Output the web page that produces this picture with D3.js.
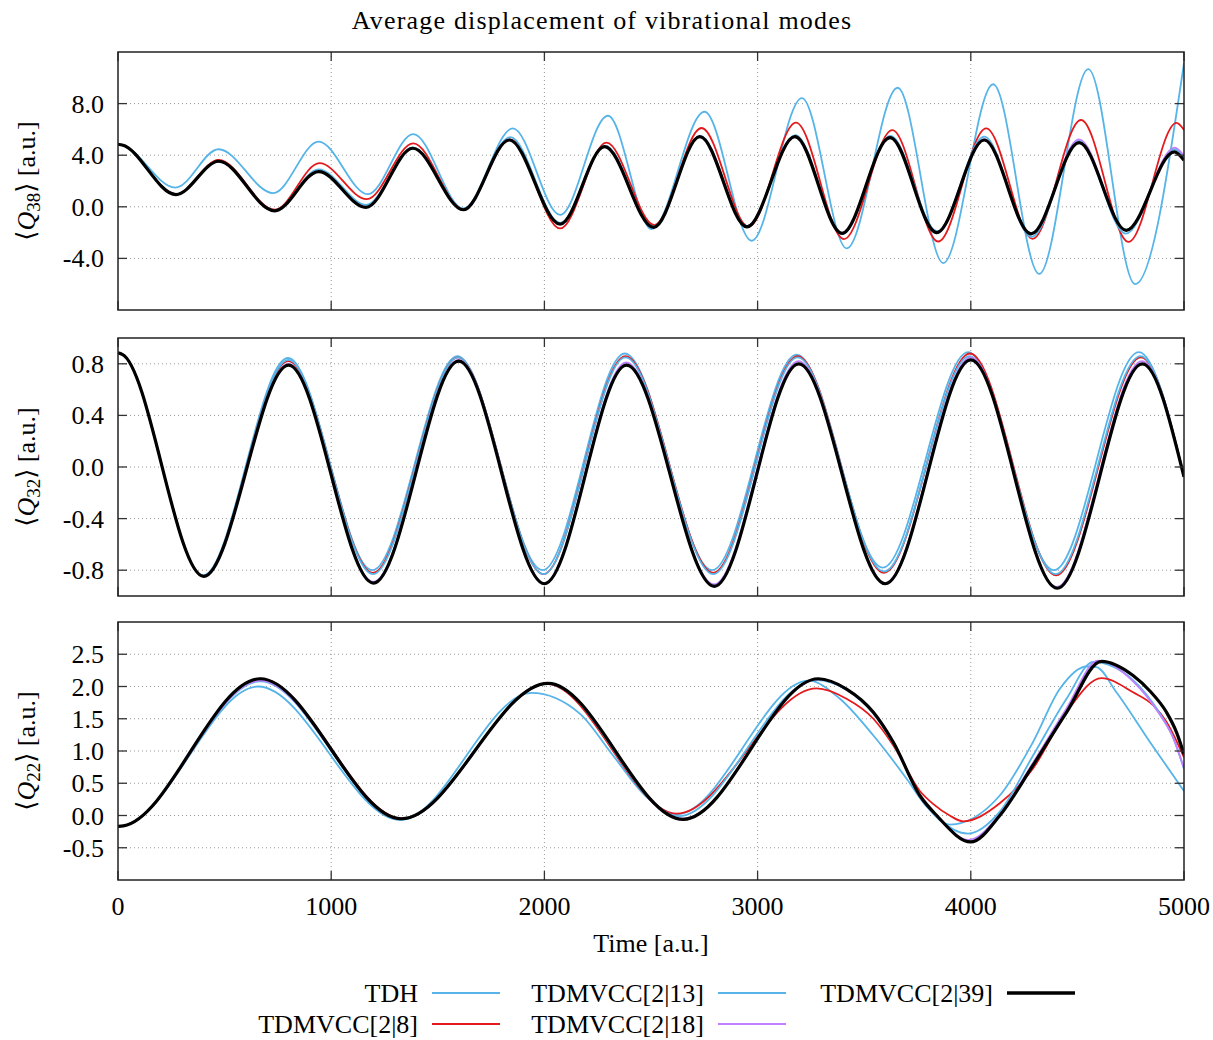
<!DOCTYPE html>
<html>
<head>
<meta charset="utf-8">
<script src="https://cdn.jsdelivr.net/npm/d3@7"></script>
<style>
  body { margin: 0; background: #fff; }
  text { font-family: "Liberation Serif", "DejaVu Serif", serif; fill: #000; }
</style>
</head>
<body>
<div id="chart"></div>
<script>
// series names + colours (legend is column-major)
var names  = ["TDH", "TDMVCC[2|8]", "TDMVCC[2|13]", "TDMVCC[2|18]", "TDMVCC[2|39]"];
var colors = ["#56b4e9", "#e41a1c", "#56b4e9", "#c080ff", "#000000"];
var xTicks = [0, 1000, 2000, 3000, 4000, 5000];

// <Q38>  [time, value]
var q38_tdh = [[0,4.85],[20,4.79],[269,1.49],[472,4.46],[728,1.06],[941,5.05],[1172,0.98],[1385,5.64],[1620,-0.13],[1852,6.08],[2074,-0.62],[2298,7.06],[2503,-1.73],[2751,7.37],[2972,-2.63],[3208,8.43],[3418,-3.22],[3657,9.23],[3871,-4.36],[4105,9.5],[4321,-5.2],[4551,10.67],[4771,-6.0],[5000,11.15]];
var q38_v8  = [[0,4.85],[20,4.79],[272,0.98],[472,3.63],[735,-0.23],[945,3.38],[1167,0.59],[1385,4.92],[1620,-0.2],[1840,5.23],[2074,-1.68],[2291,4.97],[2516,-1.42],[2737,6.11],[2958,-1.55],[3180,6.52],[3405,-2.5],[3632,5.95],[3847,-2.69],[4072,6.08],[4290,-2.48],[4517,6.73],[4740,-2.72],[4965,6.5],[5000,5.95]];
var q38_v13 = [[0,4.85],[20,4.79],[272,0.97],[472,3.5],[735,-0.28],[941,2.9],[1165,0.15],[1383,4.6],[1620,-0.2],[1840,5.4],[2074,-1.25],[2285,4.75],[2512,-1.55],[2731,5.5],[2952,-1.5],[3177,5.55],[3398,-2.1],[3623,5.5],[3842,-1.9],[4063,5.44],[4285,-2.33],[4507,5.1],[4727,-2.08],[4957,4.46],[5000,3.85]];
var q38_v18 = [[0,4.85],[20,4.79],[272,0.95],[472,3.53],[735,-0.3],[941,2.75],[1163,-0.03],[1383,4.55],[1620,-0.22],[1835,5.2],[2074,-1.32],[2282,4.68],[2512,-1.58],[2729,5.5],[2950,-1.55],[3175,5.48],[3396,-2.05],[3621,5.4],[3840,-1.98],[4063,5.25],[4283,-2.1],[4508,5.23],[4729,-1.85],[4957,4.59],[5000,3.95]];
var q38_v39 = [[0,4.85],[20,4.79],[272,0.95],[472,3.53],[735,-0.31],[941,2.73],[1163,-0.05],[1383,4.54],[1620,-0.23],[1835,5.18],[2074,-1.34],[2282,4.66],[2512,-1.6],[2729,5.44],[2950,-1.55],[3175,5.44],[3396,-2.06],[3621,5.36],[3840,-2.0],[4063,5.18],[4283,-2.1],[4508,4.97],[4729,-1.82],[4955,4.26],[5000,3.6]];

// <Q32>
var q32_tdh = [[0,0.885],[20,0.873],[400,-0.84],[797,0.845],[1193,-0.8],[1592,0.86],[1992,-0.8],[2377,0.88],[2787,-0.8],[3183,0.87],[3587,-0.78],[3988,0.89],[4390,-0.8],[4788,0.89],[5000,-0.07]];
var q32_v8  = [[0,0.885],[20,0.873],[402,-0.845],[799,0.82],[1196,-0.82],[1595,0.85],[1996,-0.83],[2380,0.86],[2792,-0.82],[3188,0.86],[3593,-0.82],[3996,0.88],[4400,-0.84],[4798,0.85],[5000,-0.075]];
var q32_v13 = [[0,0.885],[20,0.873],[402,-0.845],[799,0.83],[1196,-0.83],[1595,0.85],[1996,-0.83],[2380,0.85],[2792,-0.83],[3188,0.85],[3593,-0.81],[3994,0.86],[4398,-0.83],[4796,0.86],[5000,-0.07]];
var q32_v18 = [[0,0.885],[20,0.873],[402,-0.848],[800,0.8],[1198,-0.89],[1598,0.83],[2000,-0.9],[2384,0.81],[2796,-0.91],[3192,0.82],[3598,-0.9],[3999,0.85],[4403,-0.93],[4803,0.82],[5000,-0.077]];
var q32_v39 = [[0,0.885],[20,0.873],[402,-0.848],[800,0.79],[1198,-0.9],[1598,0.82],[2000,-0.905],[2385,0.79],[2797,-0.925],[3193,0.8],[3599,-0.905],[4000,0.83],[4405,-0.94],[4805,0.8],[5000,-0.077]];

// <Q22>
var q22_tdh = [[0,-0.17],[25,-0.16],[657,2.0],[1324,-0.07],[1939,1.9],[2166,1.58],[2322,0.93],[2478,0.29],[2622,0.02],[3240,2.09],[3386,1.81],[3543,1.24],[3699,0.57],[3790,0.15],[3901,-0.14],[4136,0.31],[4292,1.14],[4417,1.96],[4543,2.31],[4589,2.3],[4683,1.91],[4840,1.14],[5000,0.38]];
var q22_v8  = [[0,-0.17],[25,-0.16],[667,2.12],[1335,-0.05],[2010,2.04],[2620,0.03],[3277,1.97],[3417,1.81],[3543,1.5],[3636,1.09],[3761,0.38],[3823,0.18],[3901,0.0],[3964,-0.09],[4136,0.19],[4292,0.73],[4449,1.6],[4613,2.13],[4761,1.91],[4855,1.71],[4918,1.45],[5000,0.9]];
var q22_v13 = [[0,-0.17],[25,-0.16],[667,2.08],[1329,-0.06],[2017,2.05],[2630,-0.01],[3275,2.1],[3417,1.95],[3543,1.58],[3636,1.12],[3761,0.3],[3850,-0.05],[3987,-0.28],[4136,0.06],[4292,0.93],[4449,1.81],[4574,2.38],[4761,2.1],[4887,1.58],[4950,1.2],[5000,0.72]];
var q22_v18 = [[0,-0.17],[25,-0.16],[667,2.09],[1329,-0.05],[2017,2.04],[2651,-0.05],[3285,2.11],[3417,1.96],[3543,1.6],[3636,1.14],[3761,0.31],[3840,0.0],[3990,-0.38],[4136,0.02],[4292,0.82],[4449,1.66],[4597,2.4],[4761,2.08],[4887,1.56],[4950,1.2],[5000,0.73]];
var q22_v39 = [[0,-0.17],[25,-0.16],[667,2.12],[1329,-0.05],[2017,2.05],[2651,-0.06],[3285,2.12],[3417,1.96],[3543,1.6],[3636,1.14],[3761,0.31],[3840,0.0],[4000,-0.41],[4136,0.0],[4292,0.78],[4449,1.6],[4613,2.39],[4761,2.17],[4840,1.93],[4918,1.6],[4965,1.29],[5000,0.95]];

var q38Ticks = [-4, 0, 4, 8];
var q32Ticks = [-0.8, -0.4, 0, 0.4, 0.8];
var q22Ticks = [-0.5, 0, 0.5, 1, 1.5, 2, 2.5];

var panels = [
  {sub: "38", top: 52,  domain: [-8, 12], ticks: q38Ticks, series: [q38_tdh, q38_v8, q38_v13, q38_v18, q38_v39]},
  {sub: "32", top: 338, domain: [-1, 1],  ticks: q32Ticks, series: [q32_tdh, q32_v8, q32_v13, q32_v18, q32_v39]},
  {sub: "22", top: 622, domain: [-1, 3],  ticks: q22Ticks, series: [q22_tdh, q22_v8, q22_v13, q22_v18, q22_v39]}
];

var W = 1213, H = 1040;
var left = 118, right = 1184, ph = 258;
var fs = 26;

var svg = d3.select("#chart").append("svg")
    .attr("width", W)
    .attr("height", H);

var x = d3.scaleLinear().domain([0, 5000]).range([left, right]);

svg.append("text")
    .attr("x", 602).attr("y", 29)
    .attr("text-anchor", "middle")
    .style("font-size", fs + "px")
    .style("letter-spacing", "1.2px")
    .text("Average displacement of vibrational modes");

panels.forEach(function(p, pi) {
  var y = d3.scaleLinear().domain(p.domain).range([p.top + ph, p.top]);
  var g = svg.append("g");

  g.append("clipPath").attr("id", "clip" + pi)
    .append("rect").attr("x", left).attr("y", p.top).attr("width", right - left).attr("height", ph);

  // dotted grid
  g.selectAll(".hg").data(p.ticks).enter().append("line")
      .attr("x1", left).attr("x2", right)
      .attr("y1", function(d) { return y(d); }).attr("y2", function(d) { return y(d); })
      .attr("stroke", "#999").attr("stroke-width", 1).attr("stroke-dasharray", "1,3");
  g.selectAll(".vg").data(xTicks.slice(1, -1)).enter().append("line")
      .attr("x1", function(d) { return x(d); }).attr("x2", function(d) { return x(d); })
      .attr("y1", p.top).attr("y2", p.top + ph)
      .attr("stroke", "#999").attr("stroke-width", 1).attr("stroke-dasharray", "1,3");

  // lines
  var line = d3.line()
      .x(function(d) { return x(d[0]); })
      .y(function(d) { return y(d[1]); })
      .curve(d3.curveMonotoneX);

  g.append("g").attr("clip-path", "url(#clip" + pi + ")")
    .selectAll("path").data(p.series).enter().append("path")
      .attr("d", line)
      .attr("fill", "none")
      .attr("stroke", function(d, i) { return colors[i]; })
      .attr("stroke-width", function(d, i) { return i == 4 ? 3.2 : 1.8; })
      .attr("stroke-linejoin", "round");

  // inward ticks on all sides
  var tk = 9;
  p.ticks.forEach(function(t) {
    g.append("line").attr("x1", left).attr("x2", left + tk).attr("y1", y(t)).attr("y2", y(t)).attr("stroke", "#333").attr("stroke-width", 1.3);
    g.append("line").attr("x1", right - tk).attr("x2", right).attr("y1", y(t)).attr("y2", y(t)).attr("stroke", "#333").attr("stroke-width", 1.3);
    g.append("text").attr("x", 104).attr("y", y(t) + 9)
      .attr("text-anchor", "end").style("font-size", fs + "px")
      .text(t.toFixed(1));
  });
  xTicks.forEach(function(t) {
    g.append("line").attr("x1", x(t)).attr("x2", x(t)).attr("y1", p.top + ph).attr("y2", p.top + ph - tk).attr("stroke", "#333").attr("stroke-width", 1.3);
    g.append("line").attr("x1", x(t)).attr("x2", x(t)).attr("y1", p.top).attr("y2", p.top + tk).attr("stroke", "#333").attr("stroke-width", 1.3);
  });

  g.append("rect")
      .attr("x", left).attr("y", p.top).attr("width", right - left).attr("height", ph)
      .attr("fill", "none").attr("stroke", "#222").attr("stroke-width", 1.5);

  // y label  <Q_n> [a.u.]
  var lab = g.append("text")
      .attr("transform", "translate(35," + (p.top + ph / 2) + ") rotate(-90)")
      .attr("text-anchor", "middle")
      .style("font-size", fs + "px");
  lab.append("tspan").style("font-family", "DejaVu Serif").style("font-size", "26px").text("\u27E8");
  lab.append("tspan").style("font-style", "italic").text("Q");
  lab.append("tspan").attr("dy", 5).style("font-size", "19px").text(p.sub);
  lab.append("tspan").attr("dy", -5).style("font-family", "DejaVu Serif").style("font-size", "26px").text("\u27E9");
  lab.append("tspan").text(" [a.u.]");

  if (pi == 2) {
    xTicks.forEach(function(t) {
      g.append("text").attr("x", x(t)).attr("y", p.top + ph + 35)
        .attr("text-anchor", "middle").style("font-size", fs + "px").text(t);
    });
  }
});

svg.append("text")
    .attr("x", (left + right) / 2).attr("y", 952)
    .attr("text-anchor", "middle").style("font-size", fs + "px")
    .text("Time [a.u.]");

// legend, two rows, column-major
var legX = [418, 704, 993];
var legend = svg.selectAll(".legend").data(names).enter().append("g")
    .attr("class", "legend")
    .attr("transform", function(d, i) {
      return "translate(" + legX[Math.floor(i / 2)] + "," + (993 + (i % 2) * 31) + ")";
    });
legend.append("text")
    .attr("y", 9).attr("text-anchor", "end").style("font-size", fs + "px")
    .text(function(d) { return d; });
legend.append("line")
    .attr("x1", 14).attr("x2", 82).attr("y1", 0).attr("y2", 0)
    .attr("stroke", function(d, i) { return colors[i]; })
    .attr("stroke-width", function(d, i) { return i == 4 ? 3.5 : 1.8; });
</script>
</body>
</html>
